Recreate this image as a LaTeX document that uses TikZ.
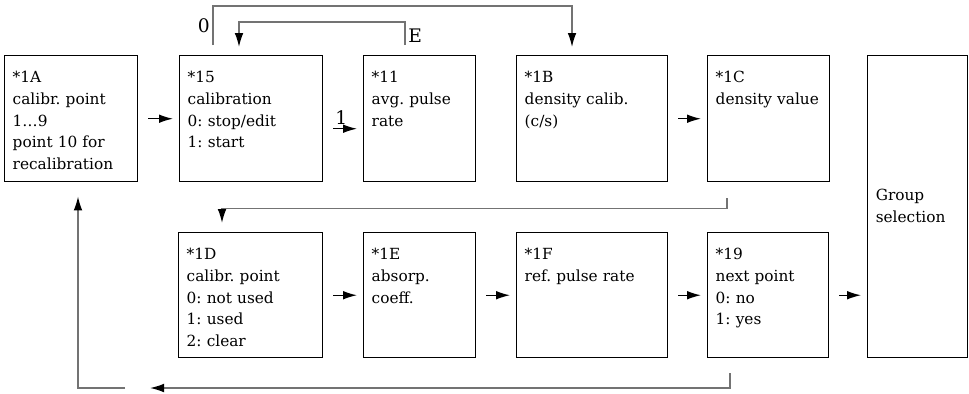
\documentclass[tikz,border=0pt]{standalone}
\usepackage{fontspec}
\setmainfont{DejaVu Serif}
\usetikzlibrary{arrows.meta,calc}
\definecolor{linegray}{gray}{0.45}
\frenchspacing

\begin{document}
\begin{tikzpicture}[x=0.75pt,y=0.75pt,
  menu/.style={draw=black,line width=1.1pt,anchor=north west,inner xsep=6pt,inner ysep=0pt,align=left,
    font=\fontsize{11.5pt}{16.3pt}\selectfont,text height=20.25pt,text depth=74.25pt},
  lowmenu/.style={menu,text depth=73.5pt},
  arr/.style={line width=1pt,-{Latex[length=10.5pt,width=6.5pt]},shorten <=7.5pt,shorten >=4.5pt},
  conn/.style={draw=linegray,line width=1pt,-{Latex[length=10.5pt,width=6.5pt,color=black]}},
  lbl/.style={font=\fontsize{14pt}{16pt}\selectfont,inner sep=2pt}]
\useasboundingbox (0,0) rectangle (969,-393);
% upper row
\node[menu,text width=87.75pt] (m1A) at (4,-55) {*1A\\calibr. point\\1\ldots9\\point 10 for\\recalibration};
\node[menu,text width=95.25pt] (m15) at (179,-55) {*15\\calibration\\0: stop/edit\\1: start};
\node[menu,text width=72pt] (m11) at (363,-55) {*11\\avg. pulse\\rate};
\node[menu,text width=101.25pt] (m1B) at (516,-55) {*1B\\density calib.\\(c/s)};
\node[menu,text width=79.5pt] (m1C) at (707,-55) {*1C\\density value};
\node[menu,text width=63pt,text height=108.75pt,text depth=117.75pt] (mGrp) at (867,-55) {Group\\selection};
% lower row
\node[lowmenu,text width=96pt] (m1D) at (178,-232) {*1D\\calibr. point\\0: not used\\1: used\\2: clear};
\node[lowmenu,text width=72pt] (m1E) at (363,-232) {*1E\\absorp.\\coeff.};
\node[lowmenu,text width=101.25pt] (m1F) at (516,-232) {*1F\\ref. pulse rate};
\node[lowmenu,text width=78.75pt] (m19) at (707,-232) {*19\\next point\\0: no\\1: yes};

\draw[arr] (m1A) -- (m15);
\draw[arr] ([yshift=-7.5pt]m15.east) -- node[lbl,at start,anchor=south west,inner sep=1pt,xshift=7.5pt,yshift=2pt] {1} ([yshift=-7.5pt]m11.west);
\draw[arr] (m1B) -- (m1C);
\draw[arr] (m1D) -- (m1E);
\draw[arr] (m1E) -- (m1F);
\draw[arr] (m1F) -- (m19);
\draw[arr] (m19) -- (m19 -| mGrp.west);

% loops
\draw[conn] ($(m15.north west)+(34,10)$) -- node[lbl,left] {0} ++(0,39) -| ($(m1B.north west)+(56,8)$);
\draw[conn] ($(m11.north west)+(42,10)$) -- node[lbl,right,pos=0.4] {E} ++(0,23) -| ($(m15.north west)+(60,8)$);
\draw[conn] ($(m1C.south west)+(20,-16)$) -- ++(0,-10) -| ($(m1D.north west)+(44,9)$);
\coordinate (backR) at (150,-388);
\coordinate (backL) at (125,-388);
\draw[conn] ($(m19.south west)+(23,-15)$) |- (backR);
\draw[conn] (backL) -| ($(m1A.south west)+(74,-14)$);
\end{tikzpicture}
\end{document}
